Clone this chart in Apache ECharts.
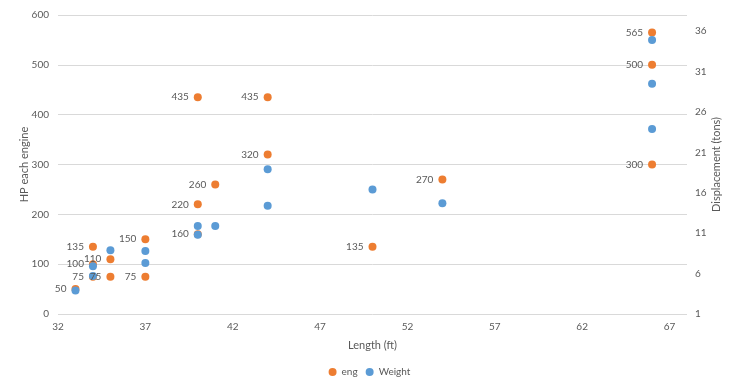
<!DOCTYPE html>
<html>
<head>
<meta charset="utf-8">
<script src="https://cdn.jsdelivr.net/npm/echarts@6/dist/echarts.min.js"></script>
<style>
html,body{margin:0;padding:0;background:#fff;}
#c{width:739px;height:391px;}
</style>
</head>
<body>
<div id="c"></div>
<script>
// Engine horsepower (eng) vs length
const engLength = [33, 34, 34, 34, 35, 35, 37, 37, 40, 40, 40, 41, 44, 44, 50, 54, 66, 66, 66];
const engHP     = [50, 135, 100, 75, 110, 75, 150, 75, 160, 220, 435, 260, 435, 320, 135, 270, 565, 500, 300];
// Displacement (Weight) vs length
const wtLength  = [33, 34, 34, 35, 37, 37, 40, 40, 41, 44, 44, 50, 54, 66, 66, 66];
const wtTons    = [3.9, 6.9, 5.7, 8.9, 8.8, 7.3, 11.9, 10.8, 11.9, 18.9, 14.4, 16.4, 14.7, 34.9, 29.5, 23.9];
const seriesNames = ['eng', 'Weight'];
const xAxisName = 'Length (ft)';
const yLeftName = 'HP each engine';
const yRightName = 'Displacement (tons)';

const FONT = 'Lato, "Liberation Sans", sans-serif';
const TXT = '#595959';
const chart = echarts.init(document.getElementById('c'), null, {renderer: 'canvas'});
chart.setOption({
  animation: false,
  backgroundColor: '#ffffff',
  textStyle: {fontFamily: FONT, color: TXT},
  grid: {left: 58, right: 52, top: 15, bottom: 77, containLabel: false},
  legend: {
    data: seriesNames,
    bottom: 9,
    left: 'center',
    icon: 'circle',
    itemWidth: 8,
    itemHeight: 8,
    itemGap: 8,
    textStyle: {fontFamily: FONT, fontSize: 10, color: TXT}
  },
  xAxis: {
    type: 'value',
    min: 32, max: 68, interval: 5,
    name: xAxisName,
    nameLocation: 'middle',
    nameGap: 26,
    nameMoveOverlap: false,
    nameTextStyle: {fontFamily: FONT, fontSize: 11, color: TXT},
    axisLine: {show: false},
    axisTick: {show: false},
    splitLine: {show: false},
    axisLabel: {fontFamily: FONT, fontSize: 10, color: TXT, margin: 8, showMaxLabel: false}
  },
  yAxis: [{
    type: 'value',
    min: 0, max: 600, interval: 100,
    name: yLeftName,
    nameLocation: 'middle',
    nameGap: 28,
    nameRotate: 90,
    nameMoveOverlap: false,
    nameTextStyle: {fontFamily: FONT, fontSize: 11, color: TXT},
    axisLine: {show: false},
    axisTick: {show: false},
    splitLine: {show: true, lineStyle: {color: '#d9d9d9', width: 1}},
    axisLabel: {fontFamily: FONT, fontSize: 10, color: TXT, margin: 9}
  }, {
    type: 'value',
    min: 1, max: 38, interval: 5,
    name: yRightName,
    nameLocation: 'middle',
    nameGap: 24,
    nameRotate: 90,
    nameMoveOverlap: false,
    nameTextStyle: {fontFamily: FONT, fontSize: 11, color: TXT},
    axisLine: {show: false},
    axisTick: {show: false},
    splitLine: {show: false},
    axisLabel: {fontFamily: FONT, fontSize: 10, color: TXT, margin: 8, showMaxLabel: false}
  }],
  series: [{
    name: seriesNames[0],
    type: 'scatter',
    yAxisIndex: 0,
    symbol: 'circle',
    symbolSize: 8,
    itemStyle: {color: '#ED7D31', opacity: 1},
    label: {
      show: true,
      position: 'left',
      distance: 5,
      fontFamily: FONT,
      fontSize: 10,
      color: TXT,
      formatter: p => p.value[1]
    },
    data: engLength.map((x, i) => [x, engHP[i]])
  }, {
    name: seriesNames[1],
    type: 'scatter',
    yAxisIndex: 1,
    symbol: 'circle',
    symbolSize: 8,
    itemStyle: {color: '#5B9BD5', opacity: 1},
    data: wtLength.map((x, i) => [x, wtTons[i]])
  }]
});
</script>
</body>
</html>
